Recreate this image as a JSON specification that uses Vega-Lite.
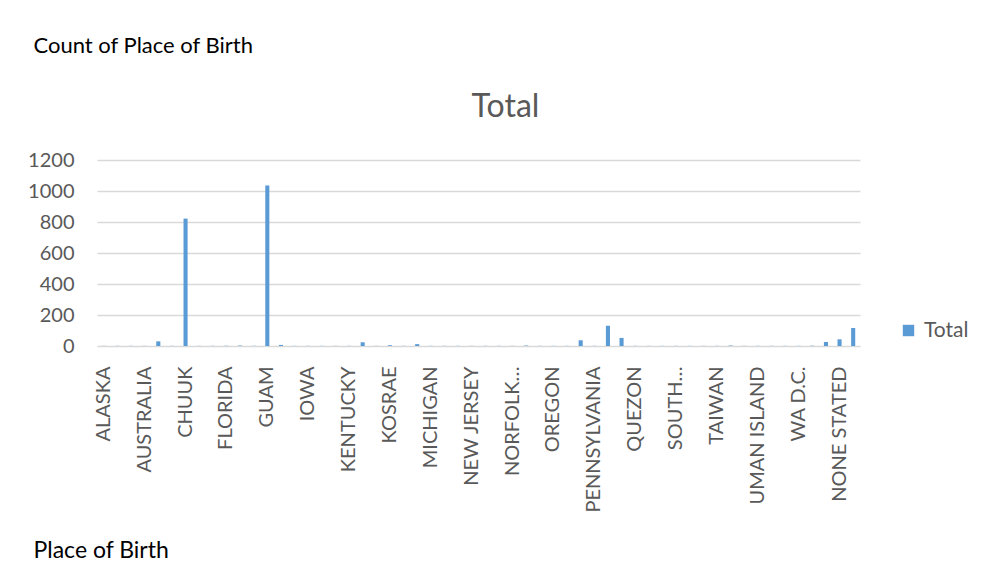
{
  "$schema": "https://vega.github.io/schema/vega-lite/v6.json",
  "width": 763,
  "height": 186,
  "autosize": {"type": "none"},
  "padding": {"left": 97, "top": 160, "right": 141, "bottom": 235},
  "background": "white",
  "config": {"view": {"stroke": null}, "font": "Lato"},
  "title": {"text": "Total", "fontSize": 32, "font": "Lato", "fontWeight": "normal", "color": "#595959", "anchor": "middle", "dx": 27, "offset": -90},
  "data": {"values": [
    {"place": "ALASKA", "count": 1, "series": "Total"},
    {"place": "AMERICAN SAMOA", "count": 1, "series": "Total"},
    {"place": "ARIZONA", "count": 1, "series": "Total"},
    {"place": "AUSTRALIA", "count": 1, "series": "Total"},
    {"place": "CALIFORNIA", "count": 30, "series": "Total"},
    {"place": "CHINA", "count": 1, "series": "Total"},
    {"place": "CHUUK", "count": 822, "series": "Total"},
    {"place": "COLORADO", "count": 1, "series": "Total"},
    {"place": "FIJI", "count": 1, "series": "Total"},
    {"place": "FLORIDA", "count": 1, "series": "Total"},
    {"place": "GEORGIA", "count": 3, "series": "Total"},
    {"place": "GERMANY", "count": 1, "series": "Total"},
    {"place": "GUAM", "count": 1035, "series": "Total"},
    {"place": "HAWAII", "count": 7, "series": "Total"},
    {"place": "IDAHO", "count": 1, "series": "Total"},
    {"place": "IOWA", "count": 1, "series": "Total"},
    {"place": "JAPAN", "count": 1, "series": "Total"},
    {"place": "KANSAS", "count": 1, "series": "Total"},
    {"place": "KENTUCKY", "count": 1, "series": "Total"},
    {"place": "KIRIBATI", "count": 24, "series": "Total"},
    {"place": "KOREA", "count": 1, "series": "Total"},
    {"place": "KOSRAE", "count": 5, "series": "Total"},
    {"place": "LOUISIANA", "count": 1, "series": "Total"},
    {"place": "MARSHALL ISLANDS", "count": 12, "series": "Total"},
    {"place": "MICHIGAN", "count": 1, "series": "Total"},
    {"place": "MISSOURI", "count": 1, "series": "Total"},
    {"place": "NAURU", "count": 1, "series": "Total"},
    {"place": "NEW JERSEY", "count": 1, "series": "Total"},
    {"place": "NEW YORK", "count": 1, "series": "Total"},
    {"place": "NEW ZEALAND", "count": 1, "series": "Total"},
    {"place": "NORFOLK ISLAND", "count": 1, "series": "Total"},
    {"place": "NORTHERN MARIANAS", "count": 3, "series": "Total"},
    {"place": "OKLAHOMA", "count": 1, "series": "Total"},
    {"place": "OREGON", "count": 1, "series": "Total"},
    {"place": "PALAU", "count": 1, "series": "Total"},
    {"place": "PAPUA NEW GUINEA", "count": 37, "series": "Total"},
    {"place": "PENNSYLVANIA", "count": 1, "series": "Total"},
    {"place": "PHILIPPINES", "count": 130, "series": "Total"},
    {"place": "POHNPEI", "count": 52, "series": "Total"},
    {"place": "QUEZON", "count": 1, "series": "Total"},
    {"place": "ROTA", "count": 1, "series": "Total"},
    {"place": "SAIPAN", "count": 1, "series": "Total"},
    {"place": "SOUTH CAROLINA", "count": 1, "series": "Total"},
    {"place": "SPAIN", "count": 1, "series": "Total"},
    {"place": "SWEDEN", "count": 1, "series": "Total"},
    {"place": "TAIWAN", "count": 1, "series": "Total"},
    {"place": "TEXAS", "count": 3, "series": "Total"},
    {"place": "TINIAN", "count": 1, "series": "Total"},
    {"place": "UMAN ISLAND", "count": 1, "series": "Total"},
    {"place": "UTAH", "count": 1, "series": "Total"},
    {"place": "VIRGINIA", "count": 1, "series": "Total"},
    {"place": "WA D.C.", "count": 1, "series": "Total"},
    {"place": "WASHINGTON", "count": 2, "series": "Total"},
    {"place": "YAP", "count": 26, "series": "Total"},
    {"place": "NONE STATED", "count": 43, "series": "Total"},
    {"place": "(blank)", "count": 116, "series": "Total"}
  ]},
  "mark": {"type": "bar"},
  "encoding": {
    "x": {
      "field": "place", "type": "nominal", "sort": null,
      "scale": {"paddingInner": 0.7, "paddingOuter": 0.35},
      "axis": {
        "values": ["ALASKA", "AUSTRALIA", "CHUUK", "FLORIDA", "GUAM", "IOWA", "KENTUCKY", "KOSRAE", "MICHIGAN", "NEW JERSEY", "NORFOLK ISLAND", "OREGON", "PENNSYLVANIA", "QUEZON", "SOUTH CAROLINA", "TAIWAN", "UMAN ISLAND", "WA D.C.", "NONE STATED"],
        "labelExpr": "datum.value == 'NORFOLK ISLAND' ? 'NORFOLK…' : datum.value == 'SOUTH CAROLINA' ? 'SOUTH…' : datum.value",
        "labelAngle": -90, "labelAlign": "right", "labelBaseline": "middle",
        "labelFontSize": 20, "labelColor": "#595959", "labelPadding": 20, "labelLimit": 300,
        "ticks": false, "domain": false, "grid": false,
        "title": "Place of Birth", "titleFontSize": 23, "titleFontWeight": "normal", "titleColor": "#000000",
        "titleAlign": "left", "titleAnchor": null, "titleAngle": 0, "titleBaseline": "alphabetic",
        "titleX": -64, "titleY": 211
      }
    },
    "y": {
      "field": "count", "type": "quantitative",
      "scale": {"domain": [0, 1200], "nice": false},
      "axis": {
        "values": [0, 200, 400, 600, 800, 1000, 1200], "format": "d",
        "labelFontSize": 20, "labelColor": "#595959", "labelPadding": 23,
        "ticks": false, "domain": false, "grid": true, "gridColor": "#d9d9d9", "gridWidth": 1.3,
        "title": "Count of Place of Birth", "titleFontSize": 22, "titleFontWeight": "normal", "titleColor": "#000000",
        "titleAlign": "left", "titleAnchor": null, "titleAngle": 0, "titleBaseline": "alphabetic",
        "titleX": -64, "titleY": -108
      }
    },
    "color": {
      "field": "series", "type": "nominal",
      "scale": {"range": ["#5b9bd5"]},
      "legend": {
        "title": null, "orient": "none", "legendX": 801, "legendY": 160,
        "symbolType": "square", "symbolSize": 130, "labelFontSize": 21, "labelColor": "#595959", "labelOffset": 5
      }
    }
  }
}
